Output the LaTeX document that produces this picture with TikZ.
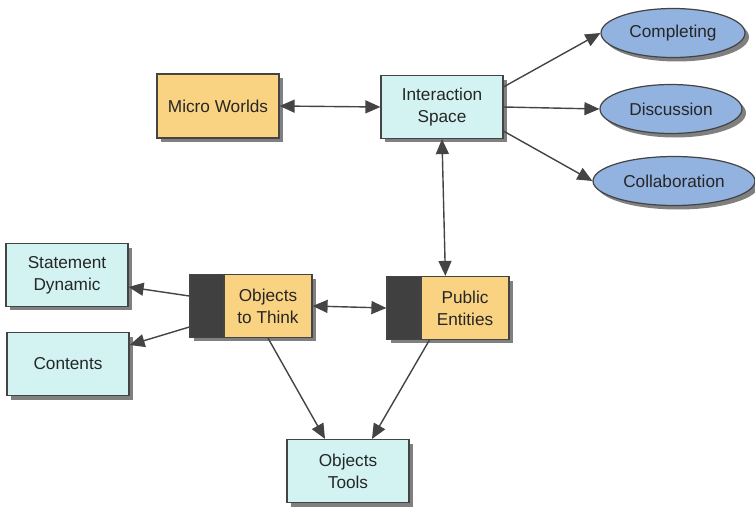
\documentclass[tikz,border=0pt]{standalone}
\usepackage{fontspec}
\setmainfont{Liberation Sans}
\usetikzlibrary{shapes.geometric, arrows.meta, shadows}
\definecolor{boxorange}{HTML}{F9D282}
\definecolor{boxcyan}{HTML}{D3F2F2}
\definecolor{ellblue}{HTML}{92B2E0}
\definecolor{edgegray}{HTML}{444444}
\definecolor{bargray}{HTML}{404040}
\tikzset{
    shade/.style={drop shadow={shadow xshift=0.08cm, shadow yshift=-0.08cm, fill=black!50, opacity=1}},
    base/.style={draw=edgegray, line width=0.7pt, rectangle, minimum width=2.44cm, minimum height=1.26cm, align=center, inner sep=2pt, text=black!85, font=\fontsize{9.8}{12.4}\selectfont, shade},
    orangebox/.style={base, fill=boxorange},
    cyanbox/.style={base, fill=boxcyan},
    darkbar/.style={base, fill=bargray, minimum width=0.68cm},
    oval/.style={base, ellipse, fill=ellblue, minimum width=2.88cm, minimum height=0.98cm, inner sep=0pt},
    arrow/.style={draw=edgegray, line width=0.8pt, -{Triangle[length=3mm, width=2.6mm]}},
    twoway/.style={arrow, {Triangle[length=3mm, width=2.6mm]}-{Triangle[length=3mm, width=2.6mm]}}
}

\begin{document}
\begin{tikzpicture}[x=0.02cm, y=-0.02cm]
\useasboundingbox (0,0) rectangle (755,508);
\node[orangebox, minimum height=1.28cm] (micro) at (218,106) {Micro Worlds};
\node[cyanbox] (inter) at (442,107) {Interaction\\Space};
\node[oval] (compl) at (673,33) {Completing};
\node[oval, minimum width=2.84cm] (disc) at (671,109) {Discussion};
\node[oval, minimum width=3.24cm] (collab) at (674,181) {Collaboration};
\node[cyanbox] (stmt) at (67,275) {Statement\\Dynamic};
\node[cyanbox] (cont) at (68,364) {Contents};
\node[darkbar] (ottbar) at (207,306) {};
\node[orangebox, minimum width=1.76cm] (ott) at (268,306) {Objects\\to Think};
\node[darkbar] (pubbar) at (404,308) {};
\node[orangebox, minimum width=1.76cm] (pub) at (465,308) {Public\\Entities};
\node[cyanbox] (tools) at (348,471) {Objects\\Tools};
\draw[twoway] (micro.east) -- (inter.west);
\draw[twoway] (inter.south) -- ([xshift=0.5cm]pub.north west);
\draw[arrow] ([yshift=-0.24cm]inter.north east) -- (compl.west);
\draw[arrow] (inter.east) -- (disc.west);
\draw[arrow] ([yshift=0.16cm]inter.south east) -- (collab.west);
\draw[arrow] ([yshift=0.2cm]ottbar.west) -- ([yshift=-0.24cm]stmt.east);
\draw[arrow] ([yshift=-0.42cm]ottbar.west) -- ([yshift=0.38cm]cont.east);
\draw[twoway] (ott.east) -- (pubbar.west);
\draw[arrow] (ott.south) -- ([xshift=-0.46cm]tools.north);
\draw[arrow] ([xshift=0.18cm]pub.south west) -- ([xshift=0.48cm]tools.north);
\end{tikzpicture}
\end{document}
